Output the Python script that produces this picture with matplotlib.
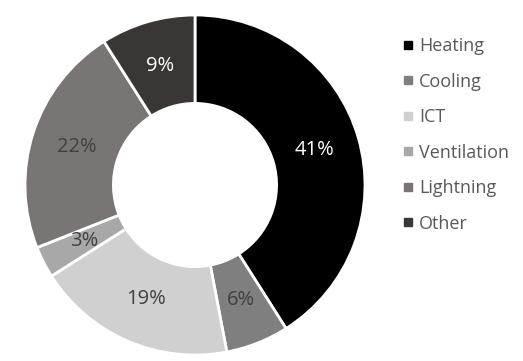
import matplotlib.pyplot as plt
from matplotlib.lines import Line2D

labels = ['Heating', 'Cooling', 'ICT', 'Ventilation', 'Lightning', 'Other']
shares = [41, 6, 19, 3, 22, 9]
colors = ['#000000', '#7f7f7f', '#d0d0d0', '#a8a8a8', '#7a7575', '#3a3636']
pct_colors = ['white', '#404040', '#404040', '#404040', '#404040', 'white']

plt.rcParams['font.family'] = ['Open Sans', 'DejaVu Sans']

fig = plt.figure(figsize=(5.23, 3.61), dpi=100)
ax = fig.add_axes([25 / 523, 6 / 361, 340 / 523, 340 / 361])

wedges, _, autotexts = ax.pie(
    shares, colors=colors, startangle=90, counterclock=False,
    autopct='%d%%', pctdistance=0.73,
    wedgeprops=dict(width=0.52, edgecolor='white', linewidth=2),
)
for t, c in zip(autotexts, pct_colors):
    t.set_color(c)
    t.set_fontsize(14.5)
ax.set_aspect('equal')
ax.set_xlim(-1.0, 1.0)
ax.set_ylim(-1.0, 1.0)

handles = [Line2D([], [], marker='s', linestyle='', markersize=6,
                  markerfacecolor=c, markeredgecolor=c) for c in colors]
fig.legend(handles, labels, loc='upper left', bbox_to_anchor=(385 / 523, 1 - 21 / 361),
           frameon=False, fontsize=13, labelcolor='#595959',
           handlelength=0.7, handletextpad=0.3, labelspacing=0.97)

fig.savefig('out.png', dpi=100)
